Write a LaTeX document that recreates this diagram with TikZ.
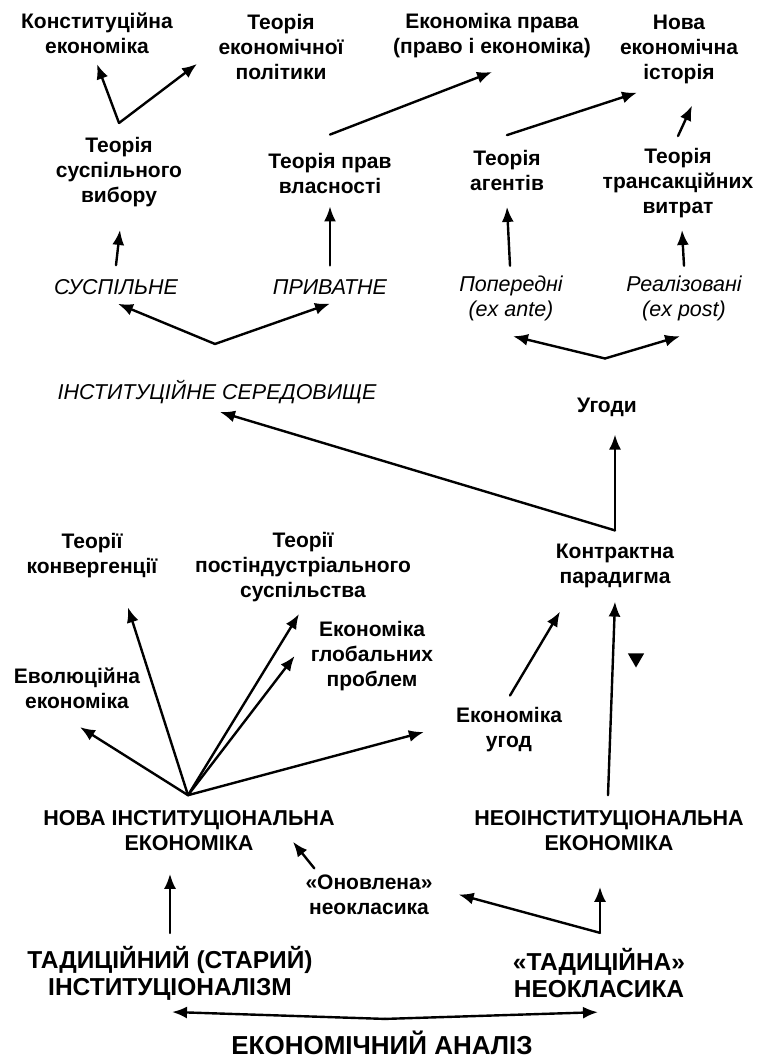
\documentclass[tikz,border=0pt]{standalone}
\usepackage{fontspec}
\setmainfont{Liberation Sans}
\usetikzlibrary{arrows.meta,shapes.geometric}

\begin{document}
\begin{tikzpicture}[->,>={Latex[length=15pt,width=12pt]},line width=2.4pt,line cap=round,x=1pt,y=1pt,
  every node/.style={align=center,inner sep=1pt},
  term/.style={font=\bfseries\fontsize{21}{25}\selectfont},
  caps/.style={font=\bfseries\fontsize{21.5}{25}\selectfont},
  kind/.style={font=\itshape\fontsize{21.5}{25}\selectfont},
  root/.style={font=\bfseries\fontsize{24.5}{27.5}\selectfont},
  mark tri/.style={fill=black,regular polygon,regular polygon sides=3,shape border rotate=180,minimum size=19pt,inner sep=0pt}]
  \useasboundingbox (0,0) rectangle (758,-1059);
  % upper part
  \node[term] (const) at (97,-33.5) {Конституційна\\економіка};
  \node[term] (pol) at (281,-47) {Теорія\\економічної\\політики};
  \node[term] (law) at (492,-35.5) {Економіка права\\(право і економіка)};
  \node[term] (hist) at (679,-49) {Нова\\економічна\\історія};
  \node[term] (choice) at (119,-172) {Теорія\\суспільного\\вибору};
  \node[term] (prop) at (330,-173) {Теорія прав\\власності};
  \node[term] (agent) at (507,-170.5) {Теорія\\агентів};
  \node[term] (trans) at (678,-183) {Теорія\\трансакційних\\витрат};
  \node[kind] (pub) at (116,-287) {СУСПІЛЬНЕ};
  \node[kind] (priv) at (330,-287) {ПРИВАТНЕ};
  \node[kind] (ante) at (511,-298.5) {Попередні\\(ex ante)};
  \node[kind] (post) at (684,-298.5) {Реалізовані\\(ex post)};
  \node[kind] (inst) at (217,-392) {ІНСТИТУЦІЙНЕ СЕРЕДОВИЩЕ};
  \node[term] (deals) at (607,-407) {Угоди};
  % middle part
  \node[term] (conv) at (92,-556) {Теорії\\конвергенції};
  \node[term] (postind) at (303,-567) {Теорії\\постіндустріального\\суспільства};
  \node[term] (contr) at (615,-565.5) {Контрактна\\парадигма};
  \node[term] (glob) at (372,-656) {Економіка\\глобальних\\проблем};
  \node[term] (evol) at (77,-688.5) {Еволюційна\\економіка};
  \node[term] (agree) at (509,-730) {Економіка\\угод};
  \node[mark tri] (tri) at (636,-658) {};
  % lower part
  \node[caps] (nie) at (189,-830.5) {НОВА ІНСТИТУЦІОНАЛЬНА\\ЕКОНОМІКА};
  \node[caps] (neo) at (609,-830.5) {НЕОІНСТИТУЦІОНАЛЬНА\\ЕКОНОМІКА};
  \node[term] (upd) at (369,-894.5) {«Оновлена»\\неокласика};
  \node[root] (old) at (170,-973.5) {ТАДИЦІЙНИЙ (СТАРИЙ)\\ІНСТИТУЦІОНАЛІЗМ};
  \node[root] (trad) at (599,-973) {«ТАДИЦІЙНА»\\НЕОКЛАСИКА};
  \node[root,font=\bfseries\fontsize{26}{28}\selectfont] (ana) at (382,-1043) {ЕКОНОМІЧНИЙ АНАЛІЗ};

  \path ([yshift=12pt]choice.north) edge ([yshift=-8pt]const.south);
  \path ([yshift=12pt]choice.north) edge ([xshift=-84pt,yshift=18pt]pol.south);
  \path ([yshift=12pt]pub.north) edge ([xshift=1pt,yshift=-21pt]choice.south);
  \path ([yshift=12pt]priv.north) edge ([yshift=-11pt]prop.south);
  \path ([yshift=16pt]prop.north) edge ([yshift=-12pt]law.south);
  \path ([yshift=13pt]agent.north) edge ([xshift=-42pt,yshift=-7pt]hist.south);
  \path ([yshift=10pt]trans.north) edge ([xshift=13pt,yshift=-20pt]hist.south);
  \path ([xshift=-1pt,yshift=8pt]ante.north) edge ([yshift=-14pt]agent.south);
  \path ([yshift=8pt]post.north) edge ([xshift=4pt,yshift=-10pt]trans.south);
  \path ([xshift=-2pt,yshift=34pt]inst.north) edge ([xshift=2pt,yshift=-7pt]pub.south);
  \path ([xshift=-2pt,yshift=34pt]inst.north) edge ([yshift=-7pt]priv.south);
  \path ([xshift=-2pt,yshift=37pt]deals.north) edge ([xshift=2pt,yshift=-13pt]ante.south);
  \path ([xshift=-2pt,yshift=37pt]deals.north) edge ([xshift=-4pt,yshift=-13pt]post.south);
  \path ([yshift=11pt]contr.north) edge ([xshift=8pt,yshift=-16pt]deals.south);
  \path ([yshift=11pt]contr.north) edge ([xshift=3pt,yshift=-6pt]inst.south);
  \path ([xshift=1pt,yshift=10pt]agree.north) edge ([xshift=-55pt,yshift=-22pt]contr.south);
  \path ([xshift=-1pt,yshift=13pt]neo.north) edge ([yshift=-12pt]contr.south);
  \path ([xshift=-1pt,yshift=13pt]nie.north) edge ([xshift=36pt,yshift=-27pt]conv.south);
  \path ([xshift=-1pt,yshift=13pt]nie.north) edge ([xshift=3pt,yshift=-16pt]evol.south);
  \path ([xshift=-1pt,yshift=13pt]nie.north) edge ([xshift=-4pt,yshift=-10pt]postind.south);
  \path ([xshift=-1pt,yshift=13pt]nie.north) edge ([xshift=-14pt]glob.west);
  \path ([xshift=-1pt,yshift=13pt]nie.north) edge ([xshift=-30pt,yshift=-2pt]agree.west);
  \path ([xshift=11pt,yshift=4pt]upd.north west) edge ([xshift=104pt,yshift=11pt]nie.south);
  \path ([yshift=11pt]old.north) edge ([xshift=-19pt,yshift=-21pt]nie.south);
  \path ([xshift=1pt,yshift=13pt]trad.north) edge ([xshift=-9pt,yshift=-34pt]neo.south);
  \path ([xshift=1pt,yshift=13pt]trad.north) edge ([xshift=24pt]upd.east);
  \path ([xshift=3pt,yshift=10pt]ana.north) edge ([xshift=2pt,yshift=-9pt]old.south);
  \path ([xshift=3pt,yshift=10pt]ana.north) edge ([xshift=-1pt,yshift=-12pt]trad.south);
\end{tikzpicture}
\end{document}
